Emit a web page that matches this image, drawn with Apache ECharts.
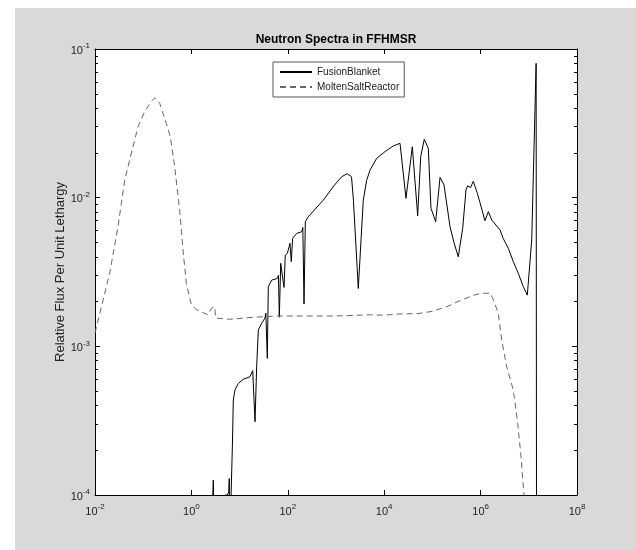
<!DOCTYPE html>
<html><head><meta charset="utf-8">
<script src="https://cdn.jsdelivr.net/npm/echarts@6/dist/echarts.min.js"></script>
<style>
html,body{margin:0;padding:0;background:#fff;}
#wrap{position:relative;width:636px;height:550px;overflow:hidden;}
#bg{position:absolute;left:15px;top:8px;right:0;bottom:0;background:#d9d9d9;}
#chart{position:absolute;left:0;top:0;width:636px;height:550px;}
</style></head><body>
<div id="wrap"><div id="bg"></div><div id="chart"></div></div>
<script>
const fusionEnergy = [2.5, 2.75, 2.85, 2.95, 4.6, 5.0, 5.6, 5.95, 6.1, 6.3, 6.85, 7.1, 7.4, 8.0, 9.4, 11.9, 16.4, 18.7, 20.9, 22.6, 24.5, 28.7, 33.6, 35.0, 37.6, 39.4, 46.3, 60.5, 64, 66.7, 71.3, 78, 83.4, 88.7, 98, 111, 118, 126, 153, 194, 205, 217, 231, 266, 546, 900, 1300, 1700, 2100, 2300, 2900, 3680, 4300, 5070, 6980, 10400, 15500, 21300, 28300, 38300, 49500, 57200, 67900, 82200, 93500, 117000, 144000, 174000, 232000, 280000, 344000, 425000, 498000, 540000, 583000, 620000, 706000, 855000, 972000, 1.05e6, 1.23e6, 1.45e6, 1.70e6, 2.52e6, 2.96e6, 3.76e6, 4.77e6, 6.06e6, 7.69e6, 9.31e6, 1.15e7, 1.42e7, 1.46e7];
const fusionFlux = [5e-5, 9e-5, 1.26e-4, 6e-5, 6e-5, 1.0e-4, 1.0e-4, 1.05e-4, 1.29e-4, 5e-5, 5e-5, 2.2e-4, 4.36e-4, 5.08e-4, 5.63e-4, 6.0e-4, 6.25e-4, 6.86e-4, 3.11e-4, 7.3e-4, 1.29e-3, 1.43e-3, 1.55e-3, 1.67e-3, 8.3e-4, 2.52e-3, 2.79e-3, 2.86e-3, 3.0e-3, 1.57e-3, 3.62e-3, 3.71e-3, 2.49e-3, 4.11e-3, 4.22e-3, 4.93e-3, 3.71e-3, 5.33e-3, 5.75e-3, 5.9e-3, 6.3e-3, 1.93e-3, 6.89e-3, 7.44e-3, 9.64e-3, 1.2e-2, 1.38e-2, 1.45e-2, 1.38e-2, 9.6e-3, 2.45e-3, 9.6e-3, 1.3e-2, 1.53e-2, 1.84e-2, 2.04e-2, 2.23e-2, 2.32e-2, 9.9e-3, 2.2e-2, 7.57e-3, 1.89e-2, 2.47e-2, 2.15e-2, 8.47e-3, 6.89e-3, 1.37e-2, 1.22e-2, 6.38e-3, 5.0e-3, 4.0e-3, 6.22e-3, 1.13e-2, 1.20e-2, 1.22e-2, 1.17e-2, 1.29e-2, 1.07e-2, 9.25e-3, 9.4e-3, 7.0e-3, 8.05e-3, 7.08e-3, 6.07e-3, 5.3e-3, 4.56e-3, 3.71e-3, 3.10e-3, 2.52e-3, 2.21e-3, 5.19e-3, 8.0e-2, 1e-6];
const msrEnergy = [0.01, 0.0202, 0.030, 0.0413, 0.0614, 0.078, 0.107, 0.145, 0.176, 0.22, 0.301, 0.365, 0.45, 0.571, 0.67, 0.784, 1.0, 1.26, 2.2, 2.59, 3.04, 3.19, 6.2, 20, 60, 200, 1000, 5000, 1e4, 2e4, 5e4, 1e5, 2e5, 4e5, 7e5, 1e6, 1.6e6, 1.84e6, 2.33e6, 2.74e6, 3.48e6, 4.77e6, 5.78e6, 6.79e6, 7.94e6, 9e6];
const msrFlux = [1.23e-3, 3.11e-3, 6.38e-3, 1.315e-2, 2.2e-2, 3.0e-2, 3.78e-2, 4.42e-2, 4.7e-2, 4.31e-2, 3.16e-2, 2.57e-2, 1.62e-2, 8.26e-3, 4.45e-3, 2.65e-3, 1.9e-3, 1.77e-3, 1.63e-3, 1.8e-3, 1.85e-3, 1.55e-3, 1.52e-3, 1.57e-3, 1.6e-3, 1.6e-3, 1.6e-3, 1.63e-3, 1.62e-3, 1.65e-3, 1.66e-3, 1.72e-3, 1.85e-3, 2.05e-3, 2.2e-3, 2.27e-3, 2.28e-3, 2.05e-3, 1.67e-3, 1.10e-3, 7.3e-4, 5.08e-4, 3.2e-4, 1.91e-4, 1e-4, 5e-5];
const xTickValues = [1e-2, 1e0, 1e2, 1e4, 1e6, 1e8];
const yTickValues = [1e-4, 1e-3, 1e-2, 1e-1];
const yMinorTickValues = [2e-4, 3e-4, 4e-4, 5e-4, 6e-4, 7e-4, 8e-4, 9e-4, 2e-3, 3e-3, 4e-3, 5e-3, 6e-3, 7e-3, 8e-3, 9e-3, 2e-2, 3e-2, 4e-2, 5e-2, 6e-2, 7e-2, 8e-2, 9e-2];
const seriesNames = ['FusionBlanket', 'MoltenSaltReactor'];
const titleText = 'Neutron Spectra in FFHMSR';
const yAxisTitle = 'Relative Flux Per Unit Lethargy';

const FONT = '"Liberation Sans", Arial, sans-serif';
const TXT = '#222';
function fmt(v) { const e = Math.round(Math.log10(v)); return '{b|10}{s|' + e + '}'; }
const rich = {
  b: { fontSize: 11, fontFamily: FONT, color: TXT, verticalAlign: 'bottom' },
  s: { fontSize: 8, fontFamily: FONT, color: TXT, padding: [0, 0, 6, 0], verticalAlign: 'bottom' }
};
const line = { show: true, onZero: false, lineStyle: { color: '#000', width: 1 } };
function xAx(pos, grid, ticks, labels, len) {
  return { type: 'log', logBase: 10, min: 0.01, max: 1e8, gridIndex: grid, position: pos,
    axisLine: line, splitLine: { show: false },
    axisTick: { show: true, inside: true, length: len, customValues: ticks, lineStyle: { color: '#000' } },
    axisLabel: { show: labels, customValues: ticks, formatter: fmt, margin: 8, rich: rich } };
}
function yAx(pos, grid, ticks, labels, len, extra) {
  return Object.assign({ type: 'log', logBase: 10, min: 1e-4, max: 1e-1, gridIndex: grid, position: pos,
    axisLine: line, splitLine: { show: false },
    axisTick: { show: true, inside: true, length: len, customValues: ticks, lineStyle: { color: '#000' } },
    axisLabel: { show: labels, customValues: ticks, formatter: fmt, margin: 5, rich: rich } }, extra || {});
}
const chart = echarts.init(document.getElementById('chart'), null, { renderer: 'canvas' });
const gridRect = { left: 95, right: 59, top: 49, bottom: 55 };
chart.setOption({
  animation: false,
  backgroundColor: 'transparent',
  textStyle: { fontFamily: FONT },
  title: { text: titleText, left: 336, top: 34, textAlign: 'center', padding: 0,
    textStyle: { fontSize: 12, fontWeight: 'bold', color: '#000', fontFamily: FONT } },
  legend: { data: seriesNames, orient: 'vertical', left: 273, top: 62,
    backgroundColor: '#fff', borderColor: '#555', borderWidth: 1, borderRadius: 0,
    padding: [5, 5, 5, 6], itemWidth: 32, itemHeight: 10, itemGap: 5,
    itemStyle: { opacity: 0 },
    textStyle: { fontSize: 10, color: TXT, fontFamily: FONT } },
  grid: [
    Object.assign({ show: true, backgroundColor: '#fff', borderWidth: 0 }, gridRect),
    Object.assign({ show: false }, gridRect)
  ],
  xAxis: [
    xAx('bottom', 0, xTickValues, true, 5),
    xAx('top', 0, xTickValues, false, 5),
    Object.assign(xAx('bottom', 1, xTickValues, false, 5), { show: false })
  ],
  yAxis: [
    yAx('left', 0, yTickValues, true, 5, { name: yAxisTitle, nameLocation: 'middle', nameGap: 28, nameRotate: 90,
      nameMoveOverlap: false,
      nameTextStyle: { fontSize: 13, color: TXT, fontFamily: FONT } }),
    yAx('right', 0, yTickValues, false, 5),
    yAx('left', 1, yMinorTickValues, false, 3, { axisLine: { show: false } }),
    yAx('right', 1, yMinorTickValues, false, 3, { axisLine: { show: false } })
  ],
  series: [
    { name: seriesNames[0], type: 'line', xAxisIndex: 0, yAxisIndex: 0, symbol: 'none', clip: true,
      lineStyle: { color: '#000', width: 1 }, itemStyle: { color: '#000' },
      data: fusionEnergy.map((e, i) => [e, fusionFlux[i]]) },
    { name: seriesNames[1], type: 'line', xAxisIndex: 0, yAxisIndex: 0, symbol: 'none', clip: true,
      lineStyle: { color: '#666', width: 1, type: [6, 4] }, itemStyle: { color: '#666' },
      data: msrEnergy.map((e, i) => [e, msrFlux[i]]) }
  ]
});
</script></body></html>
